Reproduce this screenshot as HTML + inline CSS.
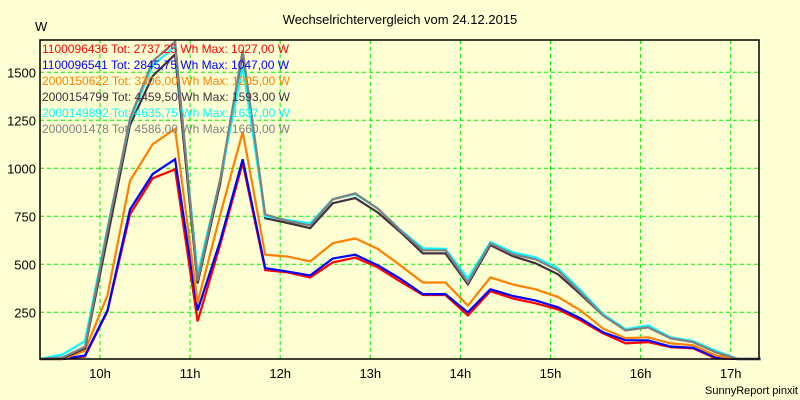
<!DOCTYPE html>
<html><head><meta charset="utf-8"><style>
body{margin:0;background:#ffffd4;}
svg{display:block;font-family:"Liberation Sans",sans-serif;}
</style></head><body>
<svg id="chart" width="800" height="400">
<rect width="800" height="400" fill="#ffffd4"/>
<text x="400" y="24" text-anchor="middle" font-size="13">Wechselrichtervergleich vom 24.12.2015</text>
<text x="35" y="31" font-size="13">W</text>
<text x="798" y="394" text-anchor="end" font-size="11">SunnyReport pinxit</text>
<g id="grid"></g><g id="series"></g><g id="axes"></g><g id="legend"></g>
</svg>
<script>
const times=["9:20","9:35","9:50","10:05","10:20","10:35","10:50","11:05","11:20","11:35","11:50","12:05","12:20","12:35","12:50","13:05","13:20","13:35","13:50","14:05","14:20","14:35","14:50","15:05","15:20","15:35","15:50","16:05","16:20","16:35","16:50","17:05","17:20"];
const red=[0,0,20,255,760,948,995,203,600,1027,470,458,432,510,535,484,410,340,340,234,360,322,297,265,208,140,88,95,68,62,10,0,0];
const blue=[0,0,25,260,785,970,1047,260,620,1047,480,462,442,530,550,495,425,345,345,250,370,335,312,276,218,146,104,104,72,65,15,0,0];
const orange=[0,5,50,340,935,1125,1205,300,755,1190,550,540,515,610,635,580,495,405,405,285,432,395,370,330,260,165,115,120,88,78,25,0,0];
const dark=[0,10,62,640,1225,1480,1593,400,920,1600,740,715,688,818,845,770,668,557,557,396,600,542,505,448,344,234,156,172,115,95,42,0,0];
const cyan=[0,30,100,690,1250,1535,1637,450,940,1530,750,730,713,840,865,790,680,583,580,427,615,562,536,479,365,240,162,182,120,100,50,0,0];
const gray=[0,15,70,680,1260,1557,1660,415,940,1615,760,725,703,838,870,790,677,573,573,406,609,552,526,468,354,234,156,172,115,95,42,0,0];
const yTicks=[250,500,750,1000,1250,1500];
const xTicks=["10h","11h","12h","13h","14h","15h","16h","17h"];
const seriesNames=["1100096436","1100096541","2000150622","2000154799","2000149892","2000001478"];
const seriesTot=["2737,25","2845,75","3306,00","4459,50","4635,75","4586,00"];
const seriesMax=["1027,00","1047,00","1205,00","1593,00","1637,00","1660,00"];
const colors=["#ff0000","#0000ff","#ff8000","#403040","#00ffff","#808080"];
const allSeries=[red,blue,orange,dark,cyan,gray];
const NS="http://www.w3.org/2000/svg";
const L=40,R=759,T=40,B=359;
function toH(t){const p=t.split(":");return +p[0]+p[1]/60;}
function xs(h){return 100+(h-10)*90.1;}
function ys(v){return 360.3-v*0.192;}
function mk(tag,at,parent){const e=document.createElementNS(NS,tag);for(const k in at)e.setAttribute(k,at[k]);parent.appendChild(e);return e;}
const grid=document.getElementById('grid'),axes=document.getElementById('axes'),ser=document.getElementById('series'),leg=document.getElementById('legend');
yTicks.forEach(v=>{const y=ys(v);
 const l=mk('line',{x1:L,x2:R,y1:y,y2:y,stroke:'#00ee00','stroke-dasharray':'4,3'},grid);
 
 
 const t=mk('text',{x:36,y:y+5,'text-anchor':'end','font-size':'13'},axes);t.textContent=v;
 
 
});
xTicks.forEach(s=>{const x=xs(parseInt(s));
 const l=mk('line',{x1:x,x2:x,y1:T,y2:B,stroke:'#00ee00','stroke-dasharray':'4,3'},grid);
 
 
 const t=mk('text',{x:x,y:378,'text-anchor':'middle','font-size':'13'},axes);t.textContent=s;
 
 
});
const fr=mk('rect',{x:L,y:T,width:R-L,height:B-T,fill:'none',stroke:'#000','stroke-width':'1.5'},axes);


allSeries.forEach((d,i)=>{
 const pts=d.map((v,j)=>xs(toH(times[j])).toFixed(1)+','+Math.min(ys(v),B).toFixed(1)).join(' ');
 const p=mk('polyline',{points:pts,fill:'none',stroke:colors[i],'stroke-width':'2.2','stroke-linejoin':'miter'},ser);
 
 
 const t=mk('text',{x:42,y:53+i*16,'font-size':'12',fill:colors[i]},leg);
 t.textContent=seriesNames[i]+" Tot: "+seriesTot[i]+" Wh Max: "+seriesMax[i]+" W";
 
 
});
</script>
</body></html>
